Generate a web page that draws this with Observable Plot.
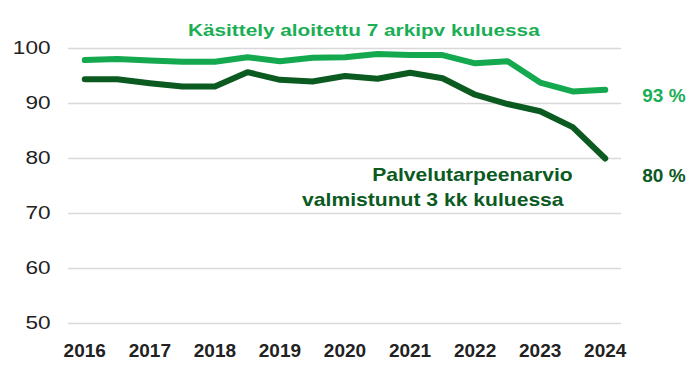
<!DOCTYPE html>
<html>
<head>
<meta charset="utf-8">
<script src="https://cdn.jsdelivr.net/npm/d3@7"></script>
<script src="https://cdn.jsdelivr.net/npm/@observablehq/plot@0.6"></script>
<style>
  html, body { margin: 0; padding: 0; background: #fff; }
  #chart svg g[aria-label="x-axis tick label"] text { font-weight: bold; }
</style>
</head>
<body>
<div id="chart"></div>
<script>
const periods = [2016, 2016.5, 2017, 2017.5, 2018, 2018.5, 2019, 2019.5, 2020, 2020.5, 2021, 2021.5, 2022, 2022.5, 2023, 2023.5, 2024];
const kasittely = [97.9, 98.1, 97.8, 97.6, 97.6, 98.4, 97.7, 98.3, 98.4, 99.0, 98.8, 98.8, 97.3, 97.7, 93.8, 92.2, 92.5];
const palvelutarve = [94.4, 94.4, 93.7, 93.1, 93.1, 95.7, 94.3, 94.0, 95.0, 94.5, 95.6, 94.6, 91.6, 89.9, 88.6, 85.7, 80.0];
const xTicks = [2016, 2017, 2018, 2019, 2020, 2021, 2022, 2023, 2024];
const yTicks = [50, 60, 70, 80, 90, 100];
const titleLight = "Käsittely aloitettu 7 arkipv kuluessa";
const titleDark = ["Palvelutarpeenarvio", "valmistunut 3 kk kuluessa"];
const endLabels = ["93 %", "80 %"];

const light = "#14a94f";
const lightText = "#1aae55";
const dark = "#0b5a1f";

const lightData = periods.map((p, i) => ({x: p, y: kasittely[i]}));
const darkData = periods.map((p, i) => ({x: p, y: palvelutarve[i]}));

const chart = Plot.plot({
  width: 700,
  height: 369,
  marginLeft: 68,
  marginRight: 79,
  marginTop: 48,
  marginBottom: 46,
  style: {fontFamily: "'Liberation Sans', Arial, sans-serif", color: "#222", background: "#fff"},
  x: {domain: [2015.75, 2024.25]},
  y: {domain: [50, 100]},
  marks: [
    Plot.ruleY(yTicks, {stroke: "#d9d9d9", strokeWidth: 1.5}),
    Plot.axisY(yTicks, {tickSize: 0, tickPadding: 18, fontSize: 18.5, label: null, fill: "#222"}),
    Plot.axisX(xTicks, {tickSize: 0, tickPadding: 20, fontSize: 19, tickFormat: d => String(d), label: null, fill: "#222"}),
    Plot.line(lightData, {x: "x", y: "y", stroke: light, strokeWidth: 6, strokeLinejoin: "round"}),
    Plot.line(darkData, {x: "x", y: "y", stroke: dark, strokeWidth: 6, strokeLinejoin: "round", strokeLinecap: "round"}),
    Plot.text([titleLight], {x: 2020.29, y: 103.27, text: d => d, fill: lightText, fontSize: 17.3, fontWeight: "bold"}),
    Plot.text([titleDark[0]], {x: 2023.5, y: 76.9, text: d => d, fill: dark, fontSize: 17.6, fontWeight: "bold", textAnchor: "end"}),
    Plot.text([titleDark[1]], {x: 2023.36, y: 72.36, text: d => d, fill: dark, fontSize: 17.6, fontWeight: "bold", textAnchor: "end"}),
    Plot.text([endLabels[0]], {x: 2024, y: 91.45, dx: 37, text: d => d, fill: lightText, fontSize: 19, fontWeight: "bold", textAnchor: "start"}),
    Plot.text([endLabels[1]], {x: 2024, y: 76.9, dx: 37, text: d => d, fill: dark, fontSize: 19, fontWeight: "bold", textAnchor: "start"})
  ]
});
document.getElementById("chart").appendChild(chart);

// The reference's text is drawn horizontally widened; emulate that by a
// horizontal scale around each text's own anchor point.
function widen(el, factor) {
  const x = +(el.getAttribute("x") || 0);
  const prev = el.getAttribute("transform") || "";
  el.setAttribute("transform", `${prev} translate(${x},0) scale(${factor},1) translate(${-x},0)`.trim());
}
const annot = new Set([titleLight, ...titleDark]);
const yLab = new Set(yTicks.map(String));
chart.querySelectorAll("text").forEach(t => {
  const s = t.textContent.trim();
  if (annot.has(s)) widen(t, 1.2);
  else if (yLab.has(s)) widen(t, 1.22);
});
</script>
</body>
</html>
